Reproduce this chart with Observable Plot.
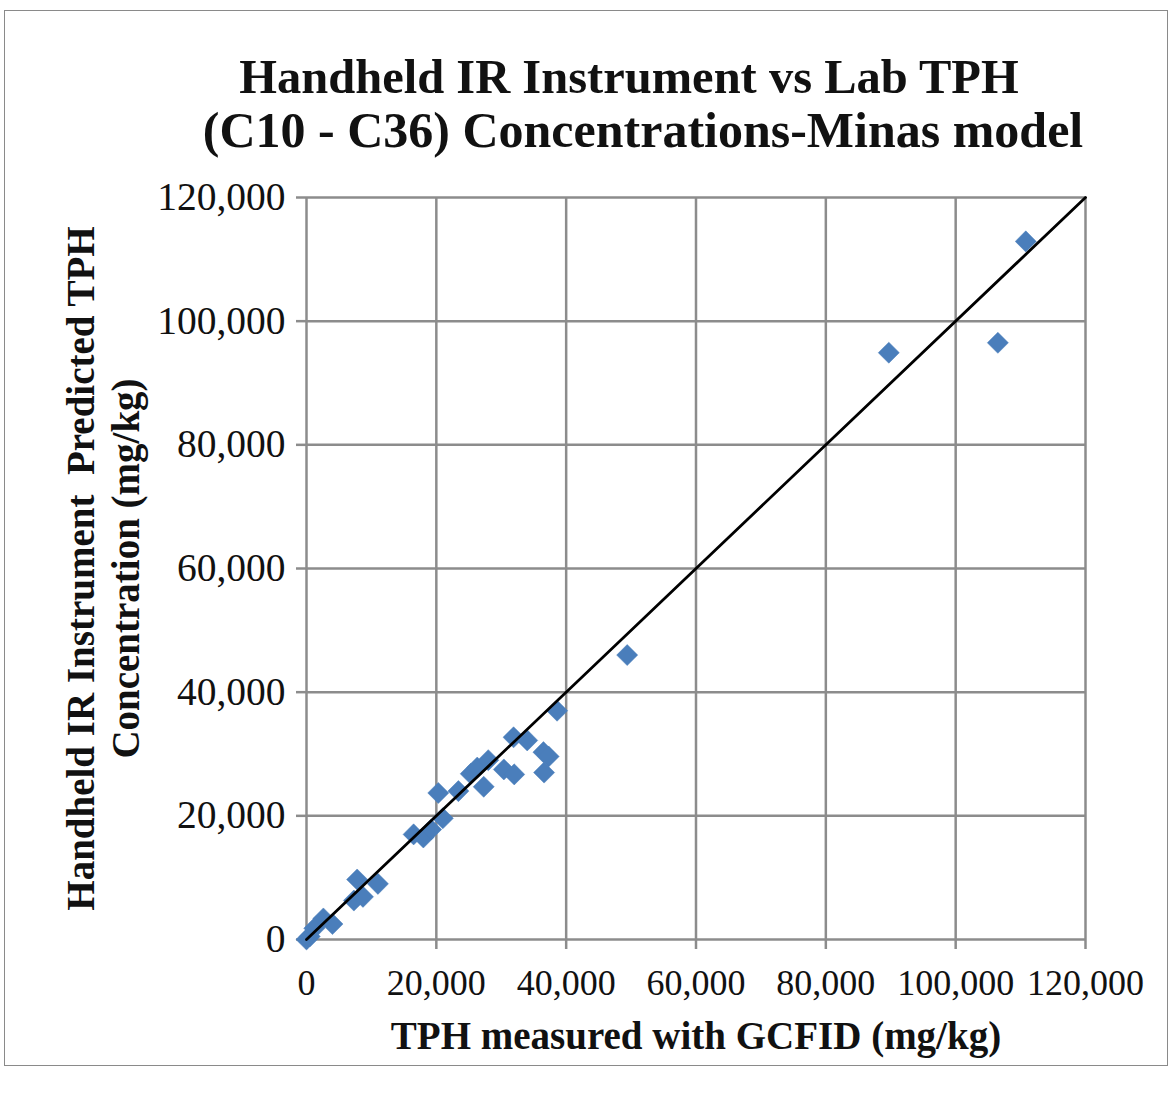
<!DOCTYPE html>
<html>
<head>
<meta charset="utf-8">
<script src="https://cdn.jsdelivr.net/npm/d3@7"></script>
<script src="https://cdn.jsdelivr.net/npm/@observablehq/plot@0.6"></script>
<style>
  body { margin: 0; background: #fff; }
  #wrap { position: relative; width: 1172px; height: 1097px; overflow: hidden; background: #fff;
          font-family: "Liberation Serif", "Times New Roman", serif; color: #111; }
  #border { position: absolute; left: 4px; top: 10px; width: 1164px; height: 1056px;
            border: 1.5px solid #8a8a8a; box-sizing: border-box; }
  .t { position: absolute; font-weight: bold; line-height: 55px;
       text-align: center; white-space: nowrap; }
  #chart { position: absolute; left: 0; top: 0; }
</style>
</head>
<body>
<div id="wrap">
  <div id="border"></div>
  <div id="chart"></div>
  <div class="t" id="t1" style="left:129px; width:1000px; top:49px; font-size:48.5px;"></div>
  <div class="t" id="t2" style="left:143px; width:1000px; top:103px; font-size:50px;"></div>
</div>
<script>
// ---- data ----
const titleLines = ["Handheld IR Instrument vs Lab TPH", "(C10 - C36) Concentrations-Minas model"];
const xTitle = "TPH measured with GCFID (mg/kg)";
const yTitle = "Handheld IR Instrument\u00a0 Predicted TPH\nConcentration (mg/kg)";
const tickValues = [0, 20000, 40000, 60000, 80000, 100000, 120000];
const gcfid = [0, 500, 1200, 2600, 4000, 7300, 8700, 7800, 11000,
               16500, 18000, 19200, 21000, 20300, 23400, 25300, 26300, 27300,
               28000, 30400, 32000, 31900, 34000, 36500, 37300, 36600, 38600,
               49400, 89700, 106500, 110800];
const predicted = [0, 500, 1800, 3400, 2500, 6300, 6900, 9700, 9000,
                   17000, 16500, 17800, 19600, 23700, 24000, 26800, 27800, 24700,
                   29000, 27500, 26700, 32700, 32200, 30300, 29600, 27000, 37000,
                   46000, 94900, 96500, 112900];
const oneToOne = [0, 120000];

document.getElementById("t1").textContent = titleLines[0];
document.getElementById("t2").textContent = titleLines[1];

const points = gcfid.map((x, i) => ({x, y: predicted[i]}));
const lineData = oneToOne.map(v => ({x: v, y: v}));
const gray = "#8c8c8c";

const chart = Plot.plot({
  width: 1172,
  height: 1097,
  marginLeft: 306,
  marginRight: 87,
  marginTop: 197,
  marginBottom: 158,
  style: {fontFamily: "Liberation Serif, Times New Roman, serif", fontSize: "36px", color: "#111", background: "transparent"},
  x: {domain: [0, 120000], nice: false},
  y: {domain: [0, 120000], nice: false},
  marks: [
    Plot.gridX(tickValues, {stroke: gray, strokeOpacity: 1, strokeWidth: 2.5}),
    Plot.gridY(tickValues, {stroke: gray, strokeOpacity: 1, strokeWidth: 2.5}),
    Plot.axisX(tickValues, {tickFormat: d3.format(","), tickSize: 10, tickPadding: 20,
                            stroke: gray, strokeWidth: 2.5, fontSize: 36, label: null}),
    Plot.axisY(tickValues, {tickFormat: d3.format(","), tickSize: 10, tickPadding: 11,
                            stroke: gray, strokeWidth: 2.5, fontSize: 39.5, label: null}),
    Plot.dot(points, {x: "x", y: "y", symbol: "diamond2", r: 9.5, fill: "#4a7ebb", stroke: "#4a7ebb", strokeWidth: 0.5}),
    Plot.line(lineData, {x: "x", y: "y", stroke: "#000", strokeWidth: 2.8}),
    Plot.text([xTitle], {frameAnchor: "bottom", dy: 97, lineAnchor: "middle", fontSize: 39, fontWeight: "bold", fill: "#111"}),
    Plot.text([yTitle], {frameAnchor: "left", dx: -204, rotate: -90, textAnchor: "middle", lineAnchor: "middle",
                         lineHeight: 1.15, fontSize: 39, fontWeight: "bold", fill: "#111"})
  ]
});
document.getElementById("chart").appendChild(chart);
</script>
</body>
</html>
